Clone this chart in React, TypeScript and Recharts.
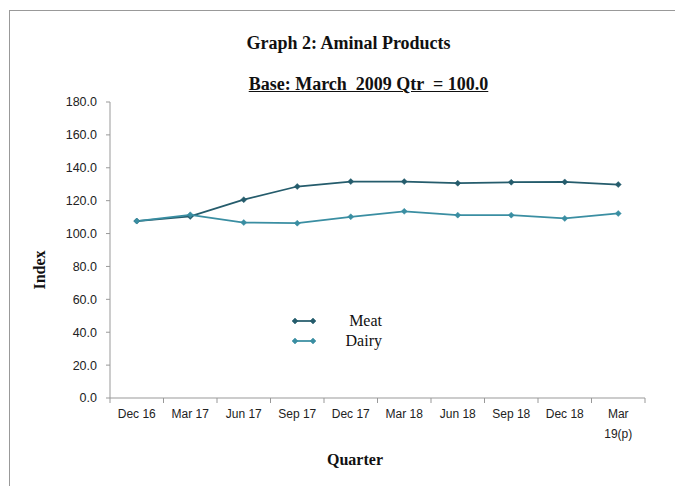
import { LineChart, Line, XAxis, YAxis, Text } from 'recharts';

const quarters = ['Dec 16', 'Mar 17', 'Jun 17', 'Sep 17', 'Dec 17', 'Mar 18', 'Jun 18', 'Sep 18', 'Dec 18', 'Mar 19(p)'];
const meat = [107.6, 110.4, 120.6, 128.6, 131.6, 131.6, 130.6, 131.2, 131.4, 129.8];
const dairy = [107.6, 111.4, 106.7, 106.3, 110.2, 113.5, 111.2, 111.2, 109.2, 112.2];
const yTicks = [0, 20, 40, 60, 80, 100, 120, 140, 160, 180];

const data = quarters.map((q, i) => ({ quarter: q, Meat: meat[i], Dairy: dairy[i] }));

const W = 675;
const H = 486;
const M = { top: 102, right: 30, bottom: 48, left: 50 };
const Y_W = 60;
const BAND = (W - M.left - Y_W - M.right) / quarters.length;

const MEAT_COLOR = '#255c6c';
const DAIRY_COLOR = '#3a8ea2';
const series = [
  { key: 'Meat', color: MEAT_COLOR },
  { key: 'Dairy', color: DAIRY_COLOR },
];
const serif = '"Liberation Serif", "DejaVu Serif", serif';
const sans = '"Liberation Sans", Arial, sans-serif';

// small diamond marker like excel
const Diamond = (props: any) => {
  const { cx, cy, stroke } = props;
  if (cx == null || cy == null) return null;
  const r = 3;
  return (
    <polygon
      points={`${cx},${cy - r} ${cx + r},${cy} ${cx},${cy + r} ${cx - r},${cy}`}
      fill={stroke}
      stroke={stroke}
      strokeWidth={0.5}
    />
  );
};

// category labels at centres, tick marks on the band edges
const QuarterTick = (props: any) => {
  const { x, y, payload, index } = props;
  const left = x - BAND / 2;
  return (
    <g>
      <line x1={left} y1={y - 8} x2={left} y2={y - 3} stroke="#999" />
      {index === quarters.length - 1 && (
        <line x1={left + BAND} y1={y - 8} x2={left + BAND} y2={y - 3} stroke="#999" />
      )}
      <Text
        x={x}
        y={y + 3}
        width={50}
        lineHeight="1.7em"
        textAnchor="middle"
        verticalAnchor="start"
        fontSize={12}
        fontFamily={sans}
        fill="#222"
      >
        {payload.value}
      </Text>
    </g>
  );
};

const LegendBox = () => (
  <div style={{ position: 'absolute', left: 292, top: 311, width: 100 }}>
    {series.map((p) => (
      <div key={p.key} style={{ display: 'flex', alignItems: 'center', height: 20 }}>
        <svg width={24} height={10}>
          <line x1={2} y1={5} x2={22} y2={5} stroke={p.color} strokeWidth={1.75} />
          <Diamond cx={3} cy={5} stroke={p.color} />
          <Diamond cx={21} cy={5} stroke={p.color} />
        </svg>
        <span
          style={{
            width: 66,
            textAlign: 'right',
            fontFamily: serif,
            fontSize: 16,
            color: '#111',
          }}
        >
          {p.key}
        </span>
      </div>
    ))}
  </div>
);

export default function App() {
  return (
    <div style={{ position: 'absolute', left: 0, top: 0, width: W, height: H, background: '#fff' }}>
      <div
        style={{
          position: 'absolute',
          left: 9,
          top: 10,
          right: 0,
          bottom: 0,
          borderTop: '1px solid #999',
          borderLeft: '1px solid #999',
        }}
      />
      <div
        style={{
          position: 'absolute',
          left: 0,
          width: 697,
          top: 33,
          textAlign: 'center',
          fontFamily: serif,
          fontWeight: 'bold',
          fontSize: 18,
          color: '#111',
        }}
      >
        Graph 2: Aminal Products
      </div>
      <div
        style={{
          position: 'absolute',
          left: 0,
          width: 737,
          top: 74,
          textAlign: 'center',
          fontFamily: serif,
          fontWeight: 'bold',
          fontSize: 18,
          textDecoration: 'underline',
          whiteSpace: 'pre',
          color: '#111',
        }}
      >
        {'Base: March  2009 Qtr  = 100.0'}
      </div>
      <div
        style={{
          position: 'absolute',
          left: 0,
          width: 710,
          top: 451,
          textAlign: 'center',
          fontFamily: serif,
          fontWeight: 'bold',
          fontSize: 16,
          color: '#111',
        }}
      >
        Quarter
      </div>
      <div
        style={{
          position: 'absolute',
          left: 40,
          top: 270,
          transform: 'translate(-50%, -50%) rotate(-90deg)',
          fontFamily: serif,
          fontWeight: 'bold',
          fontSize: 16,
          color: '#111',
        }}
      >
        Index
      </div>
      <div style={{ position: 'absolute', left: 0, top: 0 }}>
        <LineChart width={W} height={H} data={data} margin={M}>
          <XAxis
            dataKey="quarter"
            scale="band"
            height={40}
            interval={0}
            tickLine={false}
            axisLine={{ stroke: '#999' }}
            tick={<QuarterTick />}
          />
          <YAxis
            width={Y_W}
            domain={[0, 180]}
            ticks={yTicks}
            interval={0}
            tickSize={4}
            tickMargin={9}
            tickFormatter={(v: number) => v.toFixed(1)}
            axisLine={{ stroke: '#999' }}
            tickLine={{ stroke: '#999' }}
            tick={{ fontSize: 12.5, fontFamily: sans, fill: '#222' }}
          />
          {series.map((s) => (
            <Line
              key={s.key}
              dataKey={s.key}
              stroke={s.color}
              strokeWidth={1.75}
              dot={<Diamond />}
              activeDot={false}
              isAnimationActive={false}
            />
          ))}
        </LineChart>
      </div>
      <LegendBox />
    </div>
  );
}
